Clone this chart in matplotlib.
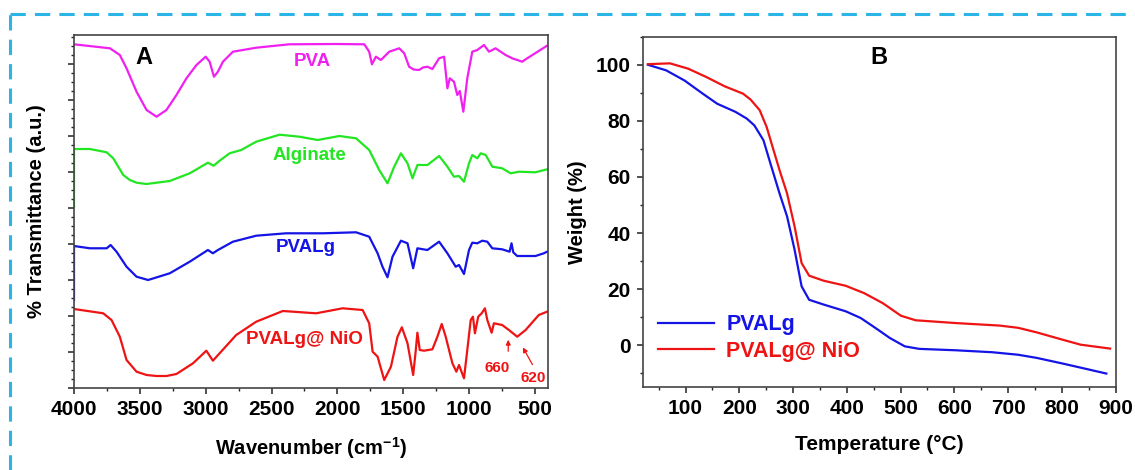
import matplotlib
matplotlib.use("Agg")
import matplotlib.pyplot as plt
from matplotlib.lines import Line2D
from matplotlib.ticker import MultipleLocator

plt.rcParams["font.family"] = ["Liberation Sans", "DejaVu Sans"]
plt.rcParams["font.weight"] = "bold"
plt.rcParams["mathtext.fontset"] = "custom"
plt.rcParams["mathtext.rm"] = "Liberation Sans:bold"
plt.rcParams["mathtext.default"] = "rm"

# ---- panel A: FTIR (stacked, arbitrary units) ----
pva_wn = [4000, 3727, 3652, 3601, 3525, 3449, 3373, 3298, 3222, 3146, 3070, 3000, 2970, 2937,
          2907, 2869, 2793, 2616, 2364, 2010, 1795, 1758, 1737, 1707, 1669, 1606, 1530, 1492,
          1455, 1420, 1379, 1350, 1316, 1278, 1227, 1189, 1164, 1146, 1114, 1089, 1070, 1043,
          1013, 975, 937, 886, 848, 798, 722, 672, 596, 558, 407]
pva_t = [343.7, 339.7, 333, 319.7, 296.3, 278, 271.3, 278, 293, 309.7, 323, 331.3, 326.3, 311.3,
         316.3, 326.3, 336.3, 340.3, 343.7, 344, 343.7, 336.3, 323.7, 331.3, 328, 336.3, 339.7, 334.7,
         321.3, 318.5, 318, 320.5, 321.3, 319, 329.7, 331.3, 299.7, 309.7, 306.3, 293, 297, 276.3,
         309.7, 336.3, 338, 343, 336.3, 339.7, 333, 329.7, 326.3, 329.7, 342.3]

alg_wn = [4000, 4000, 3879, 3752, 3702, 3626, 3576, 3525, 3449, 3273, 3121, 2983, 2939, 2894,
          2818, 2730, 2616, 2439, 2288, 2149, 1985, 1858, 1758, 1682, 1619, 1568, 1517, 1467,
          1429, 1392, 1316, 1227, 1164, 1114, 1076, 1038, 1000, 975, 937, 911, 873, 823, 748,
          684, 621, 495, 407]
alg_t = [181, 239, 239, 235.7, 229.7, 213, 208, 205.3, 204, 207, 214.7, 225.3, 222.3, 227.3,
         234.7, 238, 246.3, 253.3, 251.3, 248, 252, 249.7, 238, 218, 204.7, 221.3, 234.7, 224.7,
         209.7, 223, 223, 232, 221.3, 211.3, 212, 206.3, 224.7, 233, 229.7, 234.7, 233, 221.3, 219.7,
         214.7, 216.3, 215.7, 218.7]

pvalg_wn = [4000, 4000, 3879, 3752, 3722, 3677, 3601, 3525, 3437, 3273, 3121, 2983, 2945, 2907,
            2793, 2616, 2389, 2111, 1858, 1758, 1694, 1657, 1619, 1581, 1517, 1467, 1424, 1392,
            1316, 1227, 1164, 1101, 1076, 1038, 1000, 975, 937, 899, 861, 823, 748, 692, 677,
            664, 634, 495, 432, 407]
pvalg_t = [88, 142, 139.7, 139.7, 143, 136.3, 121.3, 111.3, 108, 114.7, 126.3, 138, 134.7, 138,
           146.3, 152.3, 154.7, 154.7, 155.7, 151.3, 134.7, 121.3, 110.7, 131.3, 147.3, 144.7, 119.7, 139.7,
           138, 146.3, 134.7, 121.3, 123, 114, 138, 145.3, 144.7, 147.3, 146.3, 139.7, 138.7, 136.3, 144.7,
           135.7, 132, 132, 134.7, 136.3]

nio_wn = [4000, 3778, 3715, 3652, 3601, 3525, 3449, 3373, 3298, 3222, 3096, 2995, 2945, 2894,
          2768, 2616, 2414, 2161, 1960, 1808, 1758, 1732, 1694, 1644, 1593, 1543, 1510, 1467,
          1424, 1404, 1392, 1374, 1341, 1278, 1240, 1207, 1177, 1126, 1096, 1076, 1038, 1013,
          987, 970, 955, 930, 904, 879, 861, 828, 811, 748, 697, 634, 570, 470, 407]
nio_t = [79, 74.7, 68, 51.3, 28, 16.3, 13, 12, 12, 14, 24.7, 37.3, 27.3, 34.7,
         53, 66.3, 77, 74.7, 79.7, 78, 64.7, 36.3, 31.3, 8, 21.3, 51.3, 60.7, 44.7,
         13, 38, 55.3, 38, 37.3, 38.7, 51.3, 64, 51.3, 24.7, 16.3, 23, 9.7, 38,
         68, 71.3, 54.7, 71.3, 74.7, 79.7, 68, 55.3, 64.7, 63, 58, 51.3, 58, 73, 76.3]

# ---- panel B: TGA ----
tga_T_pvalg = [30, 64, 98, 132, 159, 193, 214, 228, 245, 258, 275, 289, 303, 316, 330, 357,
               398, 426, 453, 480, 508, 535, 603, 671, 719, 753, 801, 849, 883]
tga_w_pvalg = [100, 98, 94.4, 89.7, 86.1, 83.2, 80.8, 78.4, 73.1, 64.8, 54.1, 45.9, 34, 21,
               16.2, 14.5, 12.1, 9.7, 6.2, 2.6, -0.4, -1.3, -1.8, -2.5, -3.4, -4.5, -6.5, -8.6, -10.1]
tga_T_nio = [30, 71, 105, 139, 173, 207, 221, 238, 251, 262, 275, 289, 303, 316, 330, 357,
             398, 432, 467, 501, 528, 603, 685, 719, 753, 801, 835, 890]
tga_w_nio = [100.2, 100.5, 98.6, 95.6, 92.3, 89.7, 87.6, 83.8, 77.8, 70.7, 62.4, 54.1, 42.3, 29.3,
             24.8, 23, 21.2, 18.6, 15, 10.5, 8.9, 7.9, 7, 6.2, 4.6, 2, 0.2, -1.2]

fig = plt.figure(figsize=(11.35, 4.7), dpi=100)

# dashed frame
frame_c = "#2bb5e6"
fig.add_artist(Line2D([10 / 1135, 1.0], [1 - 14 / 470] * 2, transform=fig.transFigure,
                      color=frame_c, lw=2.2, ls=(0, (5, 3))))
fig.add_artist(Line2D([10 / 1135] * 2, [0, 1 - 14 / 470], transform=fig.transFigure,
                      color=frame_c, lw=2.2, ls=(0, (5, 3))))

tick_kw = dict(direction="out", labelsize=15, width=1.1, colors="#222222", labelcolor="black")

axA = fig.add_axes([74 / 1135, 1 - 388 / 470, 474 / 1135, 353 / 470])
axA.plot(pva_wn, pva_t, color="#f020f0", lw=1.6)
axA.plot(alg_wn, alg_t, color="#22e622", lw=1.6)
axA.plot(pvalg_wn, pvalg_t, color="#1414e6", lw=1.6)
axA.plot(nio_wn, nio_t, color="#ee1414", lw=1.6)
axA.set_xlim(4000, 400)
axA.set_ylim(0, 353)
axA.xaxis.set_major_locator(MultipleLocator(500))
axA.xaxis.set_minor_locator(MultipleLocator(250))
axA.yaxis.set_major_locator(MultipleLocator(36))
axA.yaxis.set_minor_locator(MultipleLocator(9))
axA.set_yticklabels([])
axA.tick_params(which="major", length=4.5, pad=4, **tick_kw)
axA.tick_params(which="minor", length=2.5, width=1.0, colors="#222222", direction="out")
axA.set_xlabel("Wavenumber (cm$^{-1}$)", fontsize=14.5, fontweight="bold", labelpad=12)
axA.set_ylabel("% Transmittance (a.u.)", fontsize=14.5, fontweight="bold", labelpad=12)
axA.text(3470, 331, "A", fontsize=17, fontweight="bold", ha="center", va="center")
axA.text(2187, 327, "PVA", fontsize=13.5, fontweight="bold", color="#f020f0", ha="center", va="center")
axA.text(2212, 232, "Alginate", fontsize=13.5, fontweight="bold", color="#22e622", ha="center", va="center")
axA.text(2237, 140, "PVALg", fontsize=13.5, fontweight="bold", color="#1414e6", ha="center", va="center")
axA.text(2250, 49, "PVALg@ NiO", fontsize=13.5, fontweight="bold", color="#ee1414", ha="center", va="center")
axA.text(786, 20, "660", fontsize=11, fontweight="bold", color="#ee1414", ha="center", va="center")
axA.text(515, 10, "620", fontsize=11, fontweight="bold", color="#ee1414", ha="center", va="center")
axA.annotate("", xy=(702, 51), xytext=(702, 34),
             arrowprops=dict(arrowstyle="-|>", color="#ee1414", lw=0.9, mutation_scale=7))
axA.annotate("", xy=(601, 43), xytext=(508, 21),
             arrowprops=dict(arrowstyle="-|>", color="#ee1414", lw=0.9, mutation_scale=7))

axB = fig.add_axes([642.5 / 1135, 1 - 387.3 / 470, 473 / 1135, 350.6 / 470])
axB.plot(tga_T_pvalg, tga_w_pvalg, color="#1414e6", lw=1.6, label="PVALg")
axB.plot(tga_T_nio, tga_w_nio, color="#ee1414", lw=1.6, label="PVALg@ NiO")
axB.set_xlim(20, 900)
axB.set_ylim(-15, 110)
axB.xaxis.set_major_locator(MultipleLocator(100))
axB.xaxis.set_minor_locator(MultipleLocator(50))
axB.yaxis.set_major_locator(MultipleLocator(20))
axB.yaxis.set_minor_locator(MultipleLocator(10))
axB.set_xticks(range(100, 1000, 100))
axB.tick_params(which="major", length=4.5, pad=4, **tick_kw)
axB.tick_params(which="minor", length=2.5, width=1.0, colors="#222222", direction="out")
for lab in axB.get_xticklabels() + axB.get_yticklabels() + axA.get_xticklabels():
    lab.set_fontweight("bold")
axB.set_xlabel("Temperature (°C)", fontsize=15, fontweight="bold", labelpad=12)
axB.set_ylabel("Weight (%)", fontsize=14.5, fontweight="bold", labelpad=6)
axB.text(460, 102.5, "B", fontsize=17, fontweight="bold", ha="center", va="center")
leg = axB.legend(loc="lower left", frameon=False, fontsize=15.5, handlelength=2.6,
                 labelcolor="linecolor", bbox_to_anchor=(0.0, 0.03), borderaxespad=0.3,
                 labelspacing=0.25, handletextpad=0.6)
for t in leg.get_texts():
    t.set_fontweight("bold")

for ax in (axA, axB):
    for s in ax.spines.values():
        s.set_color("#444444")
        s.set_linewidth(1.2)

fig.savefig("out.png", dpi=100)
